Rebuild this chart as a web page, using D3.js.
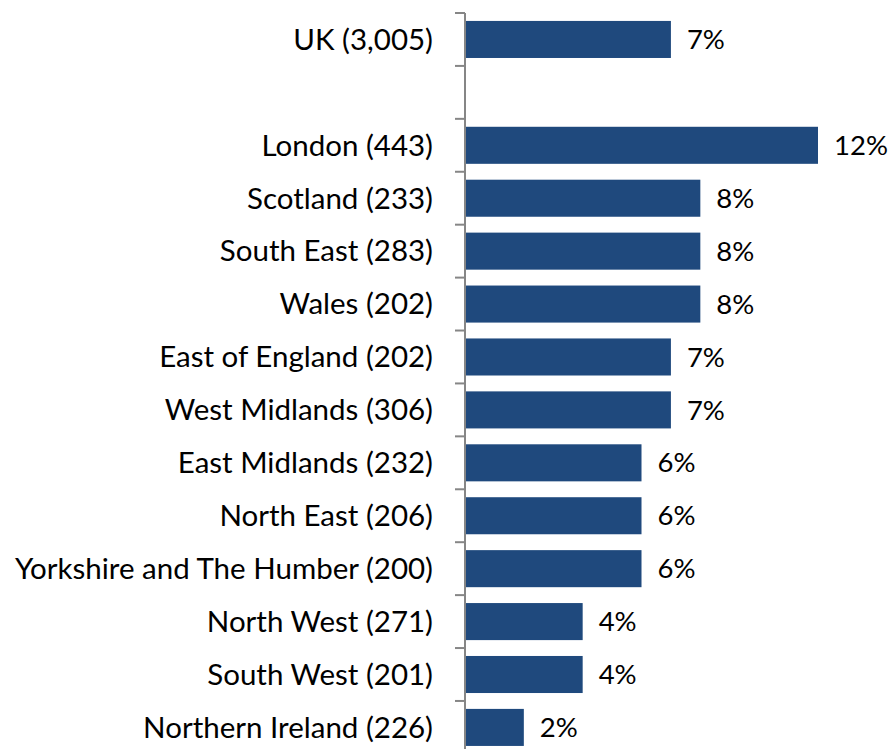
<!DOCTYPE html>
<html>
<head>
<meta charset="utf-8">
<script src="https://cdn.jsdelivr.net/npm/d3@7"></script>
<style>
  body { margin: 0; background: #fff; }
  text { font-family: Lato, "Open Sans", sans-serif; fill: #000; }
</style>
</head>
<body>
<svg width="891" height="749"></svg>
<script>
var svg = d3.select('svg');

// regions (base size in brackets), "" is the blank spacer row
var regions = ["UK (3,005)", "", "London (443)", "Scotland (233)", "South East (283)",
    "Wales (202)", "East of England (202)", "West Midlands (306)", "East Midlands (232)",
    "North East (206)", "Yorkshire and The Humber (200)", "North West (271)",
    "South West (201)", "Northern Ireland (226)"];
var shares = [7, null, 12, 8, 8, 8, 7, 7, 6, 6, 6, 4, 4, 2];

var rows = regions.map(function (r, i) { return { name: r, key: "r" + i, value: shares[i] }; });

var axisX = 465;

var y = d3.scaleBand()
    .domain(rows.map(function (d) { return d.key; }))
    .range([13, 13 + 14 * 52.92])
    .paddingInner(0.3)
    .paddingOuter(0.15);

var x = d3.scaleLinear()
    .domain([0, 12])
    .range([axisX, 818]);

// axis line + ticks between categories
var g = svg.append("g");
g.append("line")
    .attr("x1", axisX).attr("x2", axisX)
    .attr("y1", 13).attr("y2", 749)
    .attr("stroke", "#868686").attr("stroke-width", 2);

var tickYs = d3.range(rows.length + 1).map(function (i) { return 13 + i * y.step(); });
g.selectAll(".tick")
    .data(tickYs)
    .enter()
    .append("line")
    .attr("x1", axisX - 10).attr("x2", axisX)
    .attr("y1", function (d) { return d; })
    .attr("y2", function (d) { return d; })
    .attr("stroke", "#868686").attr("stroke-width", 2);

var data = rows.filter(function (d) { return d.value != null; });

svg.selectAll("rect")
    .data(data)
    .enter()
    .append("rect")
    .attr("x", axisX + 1)
    .attr("y", function (d) { return y(d.key); })
    .attr("width", function (d) { return x(d.value) - axisX - 1; })
    .attr("height", y.bandwidth())
    .attr("fill", "#1f497d");

svg.selectAll(".cat")
    .data(rows)
    .enter()
    .append("text")
    .attr("class", "cat")
    .attr("x", 433)
    .attr("y", function (d) { return y(d.key) + y.bandwidth() / 2; })
    .attr("dy", "0.35em")
    .attr("text-anchor", "end")
    .attr("font-size", 29.5)
    .text(function (d) { return d.name; });

svg.selectAll(".val")
    .data(data)
    .enter()
    .append("text")
    .attr("class", "val")
    .attr("x", function (d) { return x(d.value) + 16; })
    .attr("y", function (d) { return y(d.key) + y.bandwidth() / 2; })
    .attr("dy", "0.35em")
    .attr("font-size", 27.5)
    .text(function (d) { return d.value + "%"; });
</script>
</body>
</html>
